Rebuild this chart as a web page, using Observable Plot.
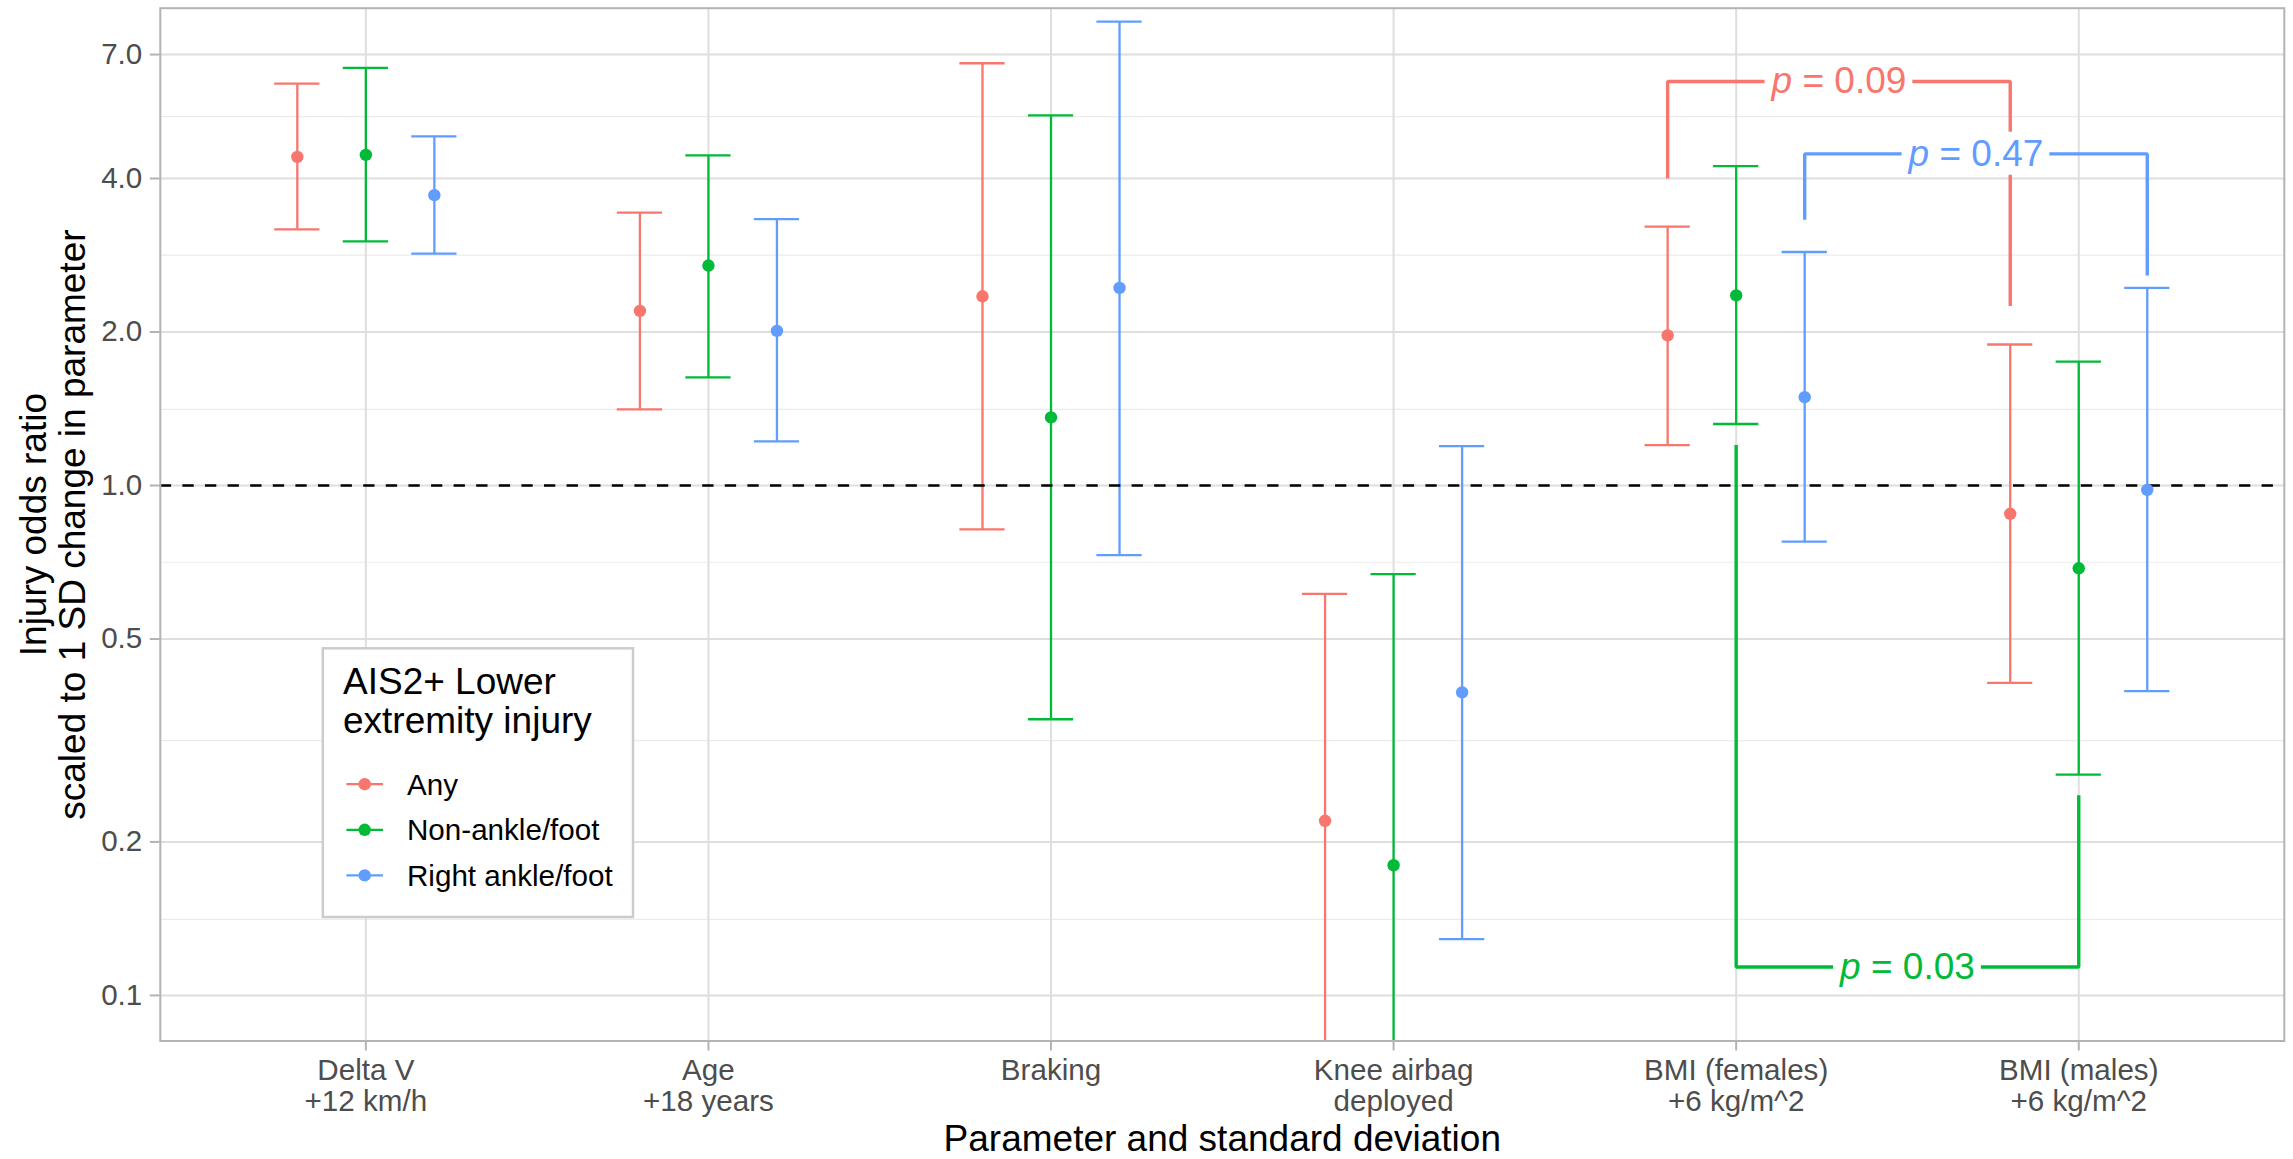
<!DOCTYPE html>
<html>
<head>
<meta charset="utf-8">
<script src="https://cdn.jsdelivr.net/npm/d3@7"></script>
<script src="https://cdn.jsdelivr.net/npm/@observablehq/plot@0.6"></script>
<style>
  html, body { margin: 0; padding: 0; background: #ffffff; overflow: hidden; }
  #chart { width: 2293px; height: 1159px; }
</style>
</head>
<body>
<div id="chart"></div>
<script>
// ---------------- data ----------------
const catKeys = ["Delta V", "Age", "Braking", "Knee airbag", "BMI (females)", "BMI (males)"];
const xTickLabels = ["Delta V\n+12 km/h", "Age\n+18 years", "Braking", "Knee airbag\ndeployed", "BMI (females)\n+6 kg/m^2", "BMI (males)\n+6 kg/m^2"];
const seriesNames = ["Any", "Non-ankle/foot", "Right ankle/foot"];
const seriesColors = ["#F8766D", "#00BA38", "#619CFF"];

// odds ratio (point), lower and upper CI, per category
const orAny        = [4.41, 2.20, 2.35, 0.220, 1.97, 0.880];
const loAny        = [3.18, 1.41, 0.82, 0.079, 1.20, 0.410];
const hiAny        = [6.14, 3.43, 6.73, 0.613, 3.22, 1.89];
const orNonAnkle   = [4.45, 2.70, 1.36, 0.180, 2.36, 0.688];
const loNonAnkle   = [3.01, 1.63, 0.348, 0.048, 1.32, 0.271];
const hiNonAnkle   = [6.59, 4.44, 5.32, 0.670, 4.23, 1.75];
const orRightAnkle = [3.71, 2.01, 2.44, 0.393, 1.49, 0.98];
const loRightAnkle = [2.85, 1.22, 0.73, 0.129, 0.776, 0.395];
const hiRightAnkle = [4.84, 3.33, 8.12, 1.195, 2.87, 2.44];

const yBreaks = [0.1, 0.2, 0.5, 1, 2, 4, 7];
const yTickLabels = ["0.1", "0.2", "0.5", "1.0", "2.0", "4.0", "7.0"];
const yMinorBreaks = [0.141, 0.316, 0.707, 1.41, 2.83, 5.29];
const yDomain = [0.0814, 8.63];
const refLine = [1];

// significance brackets
const bracketSeries = ["Any", "Right ankle/foot", "Non-ankle/foot"];
const bracketFrom   = ["BMI (females)", "BMI (females)", "BMI (females)"];
const bracketTo     = ["BMI (males)", "BMI (males)", "BMI (males)"];
const bracketStart  = [4.0, 3.32, 1.2];
const bracketLevel  = [6.2, 4.47, 0.1137];
const bracketEnd    = [2.25, 2.58, 0.247];
const bracketLabel  = ["p = 0.09", "p = 0.47", "p = 0.03"];

const xTitle = "Parameter and standard deviation";
const yTitle = "Injury odds ratio\nscaled to 1 SD change in parameter";
const legendTitleLines = ["AIS2+ Lower", "extremity injury"];

// ---------------- layout constants ----------------
const W = 2293, H = 1159;
const mL = 159.8, mR = 9.2, mT = 7.7, mB = 118.5;
const dodge = {"Any": -0.2, "Non-ankle/foot": 0, "Right ankle/foot": 0.2};
const capHalf = 0.066;
const tickLen = 10;
const FONT = "'Liberation Sans', Arial, sans-serif";

// ---------------- build tables ----------------
const est = [orAny, orNonAnkle, orRightAnkle];
const lows = [loAny, loNonAnkle, loRightAnkle];
const highs = [hiAny, hiNonAnkle, hiRightAnkle];
const rows = [];
seriesNames.forEach((s, si) => catKeys.forEach((c, ci) => {
  rows.push({cat: c, series: s, pos: ci + dodge[s], or: est[si][ci], lo: lows[si][ci], hi: highs[si][ci]});
}));

const bracketPts = [];
const bracketRows = [];
bracketSeries.forEach((s, i) => {
  const x1 = catKeys.indexOf(bracketFrom[i]) + dodge[s];
  const x2 = catKeys.indexOf(bracketTo[i]) + dodge[s];
  bracketPts.push(
    {id: i, series: s, x: x1, y: bracketStart[i]},
    {id: i, series: s, x: x1, y: bracketLevel[i]},
    {id: i, series: s, x: x2, y: bracketLevel[i]},
    {id: i, series: s, x: x2, y: bracketEnd[i]}
  );
  bracketRows.push({series: s, x: (x1 + x2) / 2, y: bracketLevel[i], label: bracketLabel[i]});
});
const catIdx = catKeys.map((c, i) => i);
const frameW = W - mL - mR;

// ---------------- plot ----------------
const plot = Plot.plot({
  width: W,
  height: H,
  marginLeft: mL,
  marginRight: mR,
  marginTop: mT,
  marginBottom: mB,
  style: {fontFamily: FONT, fontSize: "29.6px", background: "#ffffff", color: "#000000"},
  x: {type: "linear", domain: [-0.6, 5.6], axis: null},
  y: {type: "log", domain: yDomain, axis: null},
  color: {domain: seriesNames, range: seriesColors},
  marks: [
    // grid
    Plot.ruleY(yMinorBreaks, {stroke: "#ebebeb", strokeWidth: 1.1}),
    Plot.ruleY(yBreaks, {stroke: "#dedede", strokeWidth: 2}),
    Plot.ruleX(catIdx, {stroke: "#dedede", strokeWidth: 2}),
    // y axis ticks + labels
    Plot.tickY(yBreaks, {y: (d) => d, stroke: "#b3b3b3", strokeWidth: 2, insetRight: frameW - tickLen, dx: -tickLen}),
    Plot.text(yBreaks, {y: (d) => d, text: (d, i) => yTickLabels[i], frameAnchor: "left", textAnchor: "end", lineAnchor: "middle", dx: -(tickLen + 8), fontSize: 29.6, fill: "#4d4d4d"}),
    // x axis ticks + labels
    Plot.axisX({
      ticks: catIdx,
      tickFormat: (i) => xTickLabels[i],
      tickSize: tickLen, tickPadding: 6.5, lineHeight: 1.06,
      fontSize: 29.6, fill: "#4d4d4d", stroke: "#b3b3b3", strokeWidth: 2,
      label: null
    }),
    // error bars
    Plot.ruleX(rows, {x: "pos", y1: "lo", y2: "hi", stroke: "series", strokeWidth: 2.3, clip: true}),
    Plot.ruleY(rows, {y: "hi", x1: (d) => d.pos - capHalf, x2: (d) => d.pos + capHalf, stroke: "series", strokeWidth: 2.3, clip: true}),
    Plot.ruleY(rows, {y: "lo", x1: (d) => d.pos - capHalf, x2: (d) => d.pos + capHalf, stroke: "series", strokeWidth: 2.3, clip: true}),
    // reference line
    Plot.ruleY(refLine, {stroke: "#000000", strokeWidth: 2.4, strokeDasharray: "11.3,11.3"}),
    // points
    Plot.dot(rows, {x: "pos", y: "or", r: 6.2, fill: "series", clip: true}),
    // brackets
    Plot.line(bracketPts, {x: "x", y: "y", z: "id", stroke: "series", strokeWidth: 3.4, strokeLinejoin: "miter", strokeLinecap: "butt"}),
    Plot.text(bracketRows, {x: "x", y: "y", text: "label", fill: "series", fontSize: 37, lineAnchor: "middle"}),
    // panel border
    Plot.frame({stroke: "#b3b3b3", strokeWidth: 2}),
    // axis titles
    Plot.text([xTitle], {text: (d) => d, frameAnchor: "bottom", lineAnchor: "bottom", dy: 109.5, fontSize: 37, fill: "#000000"}),
    Plot.text([yTitle], {text: (d) => d, frameAnchor: "left", rotate: -90, textAnchor: "middle", lineAnchor: "bottom", lineHeight: 39 / 37, dx: 84 - mL, fontSize: 37, fill: "#000000"})
  ]
});

document.getElementById("chart").append(plot);

// italic "p" and white label background for p-value annotations
const NS = "http://www.w3.org/2000/svg";
Array.from(plot.querySelectorAll("text"))
  .filter((t) => bracketLabel.includes(t.textContent))
  .forEach((t) => {
    const s = t.textContent;
    t.textContent = "";
    const it = document.createElementNS(NS, "tspan");
    it.setAttribute("font-style", "italic");
    it.textContent = s.slice(0, 1);
    const rest = document.createElementNS(NS, "tspan");
    rest.textContent = s.slice(1);
    t.append(it, rest);
    const bb = t.getBBox();
    const r = document.createElementNS(NS, "rect");
    r.setAttribute("x", bb.x - 6);
    r.setAttribute("y", bb.y - 1);
    r.setAttribute("width", bb.width + 12);
    r.setAttribute("height", bb.height + 2);
    r.setAttribute("fill", "#ffffff");
    r.setAttribute("stroke", "none");
    if (t.getAttribute("transform")) r.setAttribute("transform", t.getAttribute("transform"));
    t.parentNode.insertBefore(r, t);
  });

// legend inside the panel
const svg = d3.select(plot);
const lg = svg.append("g").attr("font-family", FONT).attr("text-anchor", "start");
lg.append("rect")
  .attr("x", 322.8).attr("y", 648.3).attr("width", 310.2).attr("height", 268.7)
  .attr("fill", "#ffffff").attr("stroke", "#cccccc").attr("stroke-width", 2.5);
legendTitleLines.forEach((line, i) => {
  lg.append("text").attr("x", 343).attr("y", 694 + i * 38.5).attr("text-anchor", "start")
    .attr("font-size", 37).attr("fill", "#000000").text(line);
});
seriesNames.forEach((s, i) => {
  const cy = 784.2 + i * 45.6;
  lg.append("line").attr("x1", 346.4).attr("x2", 383).attr("y1", cy).attr("y2", cy)
    .attr("stroke", seriesColors[i]).attr("stroke-width", 2.3);
  lg.append("circle").attr("cx", 364.7).attr("cy", cy).attr("r", 6.2).attr("fill", seriesColors[i]);
  lg.append("text").attr("x", 407).attr("y", cy).attr("dy", "0.35em").attr("text-anchor", "start")
    .attr("font-size", 29.6).attr("fill", "#000000").text(s);
});
</script>
</body>
</html>
